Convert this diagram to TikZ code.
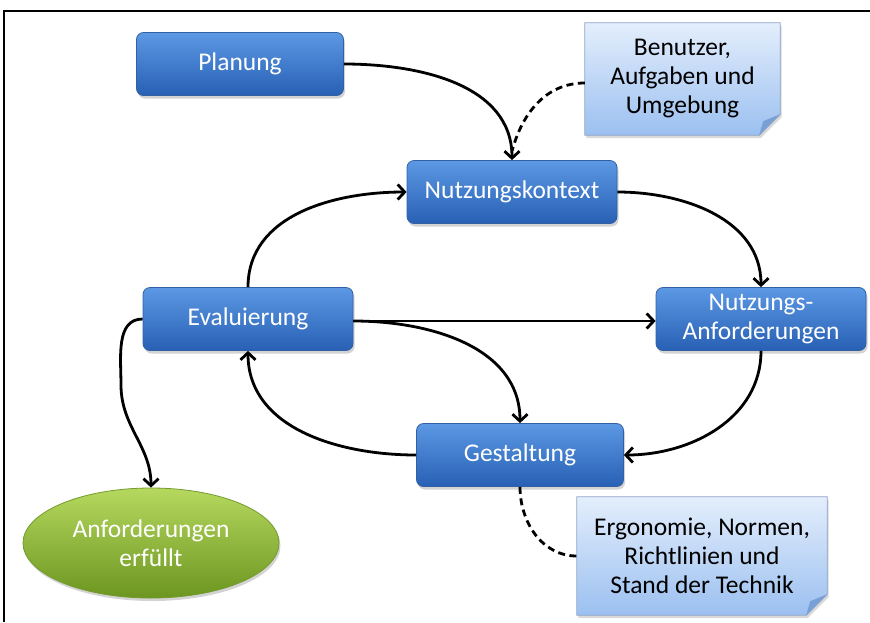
\documentclass[tikz,border=0pt]{standalone}
\usepackage{fontspec}
\setmainfont{Carlito}
\usetikzlibrary{shapes.geometric,shadows,arrows.meta}
\pgfdeclarelayer{bg}
\pgfsetlayers{bg,main}
\definecolor{boxtop}{RGB}{92,152,228}
\definecolor{boxbot}{RGB}{40,96,180}
\definecolor{boxborder}{RGB}{50,96,165}
\definecolor{notetop}{RGB}{228,238,252}
\definecolor{notebot}{RGB}{155,192,240}
\definecolor{noteborder}{RGB}{140,165,200}
\definecolor{foldcol}{RGB}{120,160,215}
\definecolor{elltop}{RGB}{182,216,95}
\definecolor{ellbot}{RGB}{108,150,32}
\definecolor{ellborder}{RGB}{115,155,45}
\begin{document}
\begin{tikzpicture}[x=1pt,y=1pt,
  txt/.style={font=\fontsize{25.5}{29}\selectfont, align=center},
  proc/.style={txt, draw=boxborder, line width=0.8pt, rounded corners=7pt,
    top color=boxtop, bottom color=boxbot, text=white, inner sep=0pt,
    minimum height=63pt,
    drop shadow={shadow xshift=1.5pt, shadow yshift=-3pt, opacity=0.35}},
  goal/.style={txt, ellipse, draw=ellborder, line width=0.8pt,
    top color=elltop, bottom color=ellbot, text=white, inner sep=0pt,
    minimum width=256pt, minimum height=110pt,
    drop shadow={shadow xshift=1.5pt, shadow yshift=-3pt, opacity=0.35}},
  notetxt/.style={txt, text=black, inner sep=0pt},
  notefill/.style={top color=notetop, bottom color=notebot, draw=noteborder, line width=0.8pt,
    drop shadow={shadow xshift=1.5pt, shadow yshift=-3pt, opacity=0.3}},
  conn/.style={line width=2.8pt, -{Straight Barb[length=7pt,width=15pt]}},
  dconn/.style={line width=2.8pt, dash pattern=on 7pt off 4.5pt}
]
\useasboundingbox (0,0) rectangle (870,-622);
\draw[line width=1.1pt] (4,-622) -- (4,-11) -- (870,-11);

\node[proc, minimum width=207pt] (pl) at (240,-64) {Planung};
\node[proc, minimum width=210pt] (nk) at (512,-192) {Nutzungskontext};
\node[proc, minimum width=210pt] (ev) at (248,-319) {Evaluierung};
\node[proc, minimum width=210pt] (na) at (761,-319) {Nutzungs-\\Anforderungen};
\node[proc, minimum width=207pt] (ge) at (520,-455) {Gestaltung};
\node[goal] (an) at (151,-543) {Anforderungen\\erfüllt};

\node[notetxt, minimum width=195pt, minimum height=112pt] (n1) at (682.5,-79) {Benutzer,\\Aufgaben und\\Umgebung};
\node[notetxt, minimum width=250pt, minimum height=118pt] (n2) at (702,-556) {Ergonomie, Normen,\\Richtlinien und\\Stand der Technik};

\begin{pgfonlayer}{bg}
\foreach \n in {n1,n2}{
  \shade[notefill] (\n.north west) -- (\n.north east) -- ([yshift=21pt]\n.south east)
     -- ([xshift=-21pt]\n.south east) -- (\n.south west) -- cycle;
  \fill[foldcol] ([yshift=21pt]\n.south east) -- ([xshift=-21pt]\n.south east)
     -- ([xshift=-17pt,yshift=14pt]\n.south east) -- cycle;
  \draw[noteborder, line width=0.8pt] ([yshift=21pt]\n.south east) -- ([xshift=-21pt]\n.south east);
}
\end{pgfonlayer}

\coordinate (evm) at (121,-385);
\draw[conn] (pl.east) to[out=0,in=90] (nk.north);
\draw[dconn] ([yshift=-4pt]n1.west) to[out=180,in=75] ([yshift=9pt]nk.north);
\draw[conn] (nk.east) to[out=0,in=90] (na.north);
\draw[conn] (na.south) to[out=-90,in=0] (ge.east);
\draw[conn] (ge.west) to[out=180,in=-90] (ev.south);
\draw[conn] (ev.north) to[out=90,in=180] (nk.west);
\draw[conn] ([yshift=-2pt]ev.east) -- ([yshift=-2pt]na.west);
\draw[conn] ([yshift=-2pt]ev.east) to[out=0,in=90] (ge.north);
\draw[line width=2.8pt] (ev.west) to[out=180,in=90] (evm);
\draw[conn] (evm) to[out=-90,in=90] (an.north);
\draw[dconn] (ge.south) to[out=-90,in=180] (n2.west);
\end{tikzpicture}
\end{document}
